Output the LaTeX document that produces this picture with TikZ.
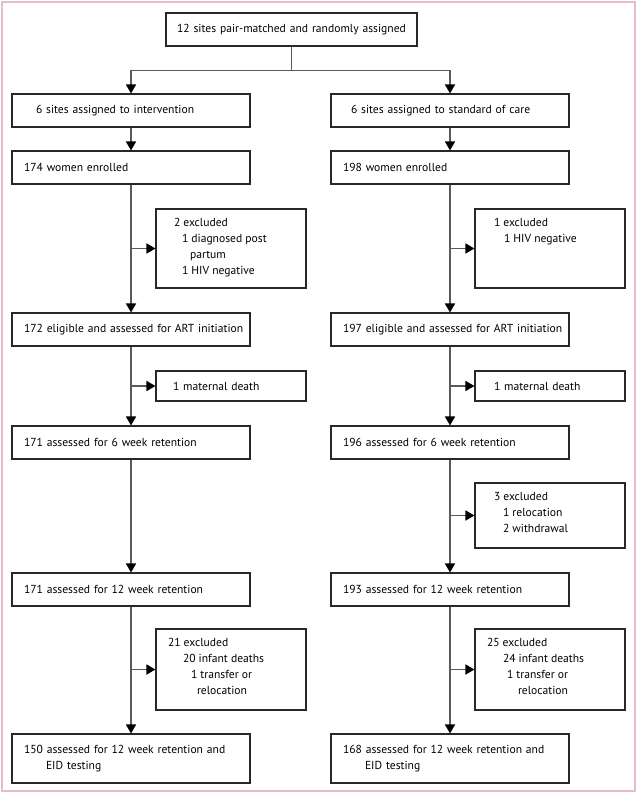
\documentclass[tikz,border=0pt]{standalone}
\usepackage{fontspec}
\setmainfont{PT Sans}
\usepackage{tikz}
\usetikzlibrary{arrows.meta,positioning}
\definecolor{framepink}{RGB}{232,186,206}
\definecolor{boxline}{RGB}{40,40,40}
\definecolor{flowline}{RGB}{90,90,90}
\tikzstyle{mainbox} = [rectangle, minimum width=238pt, minimum height=33pt, text width=214pt, inner xsep=12pt, inner ysep=0pt, align=left, draw=boxline, line width=1.1pt]
\tikzstyle{topbox} = [mainbox, minimum width=251pt, text width=235pt, inner xsep=8pt, align=center]
\tikzstyle{exclbox} = [rectangle, minimum width=150pt, inner xsep=12pt, inner ysep=0pt, draw=boxline, line width=1.1pt]
\tikzstyle{deathbox} = [exclbox, minimum height=30pt, text width=126pt, align=left]
\tikzstyle{arrow} = [draw=flowline, line width=1.6pt, -{Triangle[length=9pt,width=10pt,color=black]}]
\newcommand{\exlist}[2]{\parbox[c][#1][t]{126pt}{\vspace*{9pt}#2}}

\begin{document}
\begin{tikzpicture}[x=1pt, y=1pt, font=\fontsize{11.6pt}{16pt}\selectfont]
		\useasboundingbox (0,0) rectangle (637,-795);
		\draw [framepink, line width=2pt] (1.5,-1.5) rectangle (635,-790.5);

		\node (rand) [topbox] at (291.5,-29.5) {12 sites pair-matched and randomly assigned};
		\node (siteA) [mainbox] at (131,-110.5) {\hspace*{12pt}6 sites assigned to intervention};
		\node (siteB) [mainbox, right of=siteA, node distance=319pt] {\hspace*{8pt}6 sites assigned to standard of care};
		\node (enrolA) [mainbox, below of=siteA, node distance=57pt] {174 women enrolled};
		\node (enrolB) [mainbox, below of=siteB, node distance=57pt] {198 women enrolled};
		\node (exA1) [exclbox, below of=enrolA, node distance=81pt, xshift=100pt] {\exlist{79pt}{\hspace*{6pt}2 excluded\\ \hspace*{14pt}1 diagnosed post\\ \hspace*{22pt}partum\\ \hspace*{14pt}1 HIV negative}};
		\node (exB1) [exclbox, below of=enrolB, node distance=81pt, xshift=100pt] {\exlist{79pt}{\hspace*{7pt}1 excluded\\ \hspace*{17pt}1 HIV negative}};
		\node (eligA) [mainbox, below of=enrolA, node distance=162pt] {\mbox{172 eligible and assessed for ART initiation}};
		\node (eligB) [mainbox, below of=enrolB, node distance=162pt] {\mbox{197 eligible and assessed for ART initiation}};
		\node (deathA) [deathbox, below of=eligA, node distance=56.5pt, xshift=100pt] {\hspace*{5pt}1 maternal death};
		\node (deathB) [deathbox, below of=eligB, node distance=56.5pt, xshift=100pt] {\hspace*{7pt}1 maternal death};
		\node (sixA) [mainbox, below of=eligA, node distance=113pt] {171 assessed for 6 week retention};
		\node (sixB) [mainbox, below of=eligB, node distance=113pt] {196 assessed for 6 week retention};
		\node (exB2) [exclbox, below of=sixB, node distance=73pt, xshift=100pt] {\exlist{65pt}{\hspace*{7pt}3 excluded\\ \hspace*{16pt}1 relocation\\ \hspace*{16pt}2 withdrawal}};
		\node (twelveA) [mainbox, below of=sixA, node distance=147pt] {171 assessed for 12 week retention};
		\node (twelveB) [mainbox, below of=sixB, node distance=147pt] {193 assessed for 12 week retention};
		\node (exA3) [exclbox, below of=twelveA, node distance=80pt, xshift=100pt] {\exlist{81pt}{21 excluded\\ \hspace*{15pt}20 infant deaths\\ \hspace*{23pt}1 transfer or\\ \hspace*{29pt}relocation}};
		\node (exB3) [exclbox, below of=twelveB, node distance=80pt, xshift=100pt] {\exlist{81pt}{25 excluded\\ \hspace*{16pt}24 infant deaths\\ \hspace*{20pt}1 transfer or\\ \hspace*{31pt}relocation}};
		\node (eidA) [mainbox, minimum height=49pt, below of=twelveA, node distance=169pt] {150 assessed for 12 week retention and\\ \hspace*{22pt}EID testing};
		\node (eidB) [mainbox, minimum height=49pt, below of=twelveB, node distance=169pt] {168 assessed for 12 week retention and\\ \hspace*{22pt}EID testing};

		\draw [arrow] (rand.south) -- ++(0,-24pt) -| (siteA.north);
		\draw [arrow] (rand.south) -- ++(0,-24pt) -| (siteB.north);
		\draw [arrow] (siteA) -- (enrolA);
		\draw [arrow] (siteB) -- (enrolB);
		\draw [arrow] (enrolA) -- (eligA);
		\draw [arrow] (enrolB) -- (eligB);
		\draw [arrow] (enrolA |- exA1.west) -- (exA1);
		\draw [arrow] (enrolB |- exB1.west) -- (exB1);
		\draw [arrow] (eligA) -- (sixA);
		\draw [arrow] (eligB) -- (sixB);
		\draw [arrow] (eligA |- deathA.west) -- (deathA);
		\draw [arrow] (eligB |- deathB.west) -- (deathB);
		\draw [arrow] (sixA) -- (twelveA);
		\draw [arrow] (sixB) -- (twelveB);
		\draw [arrow] (sixB |- exB2.west) -- (exB2);
		\draw [arrow] (twelveA) -- (eidA);
		\draw [arrow] (twelveB) -- (eidB);
		\draw [arrow] (twelveA |- exA3.west) -- (exA3);
		\draw [arrow] (twelveB |- exB3.west) -- (exB3);
	\end{tikzpicture}
\end{document}
